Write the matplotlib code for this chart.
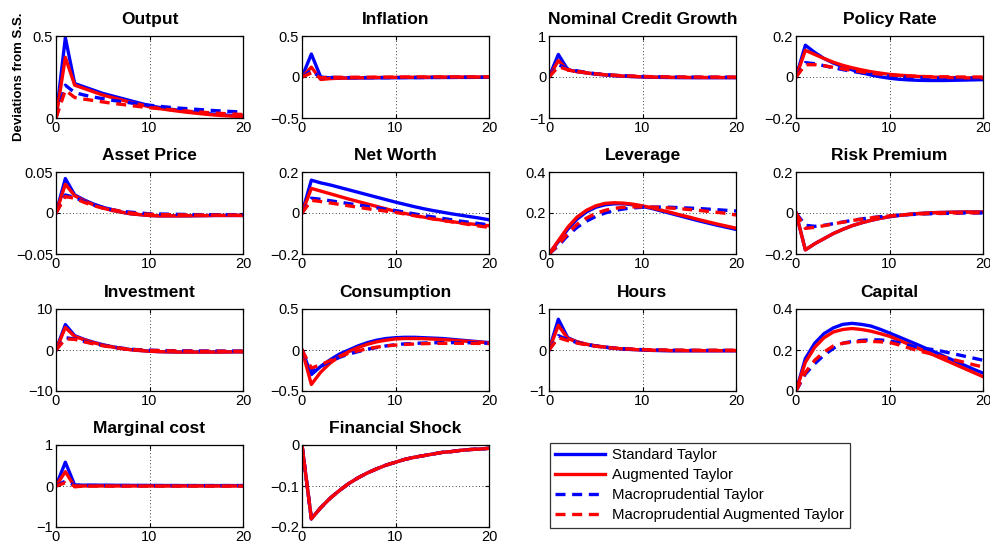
import matplotlib
matplotlib.use("Agg")
import matplotlib.pyplot as plt
from matplotlib.ticker import FuncFormatter
from matplotlib.lines import Line2D

plt.rcParams['font.family'] = ['Liberation Sans', 'DejaVu Sans']

quarters = list(range(21))

# impulse responses: standard, augmented, macroprudential, macroprudential augmented
output_std = [0, 0.49, 0.21, 0.19, 0.17, 0.15, 0.135, 0.12, 0.105, 0.09, 0.075, 0.065, 0.056, 0.048, 0.041, 0.034, 0.028, 0.023, 0.019, 0.015, 0.012]
output_aug = [0, 0.37, 0.20, 0.18, 0.16, 0.14, 0.125, 0.11, 0.095, 0.082, 0.068, 0.058, 0.05, 0.042, 0.035, 0.029, 0.023, 0.018, 0.014, 0.011, 0.008]
output_mac = [0, 0.20, 0.155, 0.14, 0.128, 0.118, 0.108, 0.1, 0.092, 0.085, 0.078, 0.072, 0.066, 0.061, 0.057, 0.053, 0.049, 0.045, 0.042, 0.039, 0.036]
output_mau = [0, 0.17, 0.125, 0.115, 0.107, 0.098, 0.09, 0.083, 0.076, 0.069, 0.063, 0.057, 0.052, 0.047, 0.042, 0.038, 0.034, 0.03, 0.027, 0.024, 0.021]

infl_std = [0, 0.28, 0.0, -0.01, -0.012, -0.012, -0.012, -0.011, -0.01, -0.01, -0.009, -0.008, -0.008, -0.007, -0.006, -0.006, -0.005, -0.005, -0.005, -0.004, -0.004]
infl_aug = [0, 0.12, -0.03, -0.02, -0.015, -0.012, -0.01, -0.008, -0.006, -0.005, -0.004, -0.003, -0.002, -0.002, -0.001, -0.001, 0, 0, 0, 0, 0]
infl_mac = [0, 0.08, -0.01, -0.005, -0.006, -0.007, -0.007, -0.007, -0.007, -0.007, -0.007, -0.006, -0.006, -0.006, -0.005, -0.005, -0.005, -0.004, -0.004, -0.004, -0.004]
infl_mau = [0, 0.05, -0.01, -0.004, -0.004, -0.004, -0.003, -0.003, -0.002, -0.002, -0.001, -0.001, 0, 0, 0, 0, 0, 0, 0, 0, 0]

credit_std = [0, 0.55, 0.18, 0.13, 0.10, 0.07, 0.05, 0.03, 0.018, 0.008, 0, -0.006, -0.01, -0.013, -0.015, -0.016, -0.017, -0.017, -0.017, -0.017, -0.017]
credit_aug = [0, 0.40, 0.17, 0.13, 0.10, 0.072, 0.052, 0.035, 0.022, 0.012, 0.004, -0.002, -0.006, -0.008, -0.01, -0.011, -0.012, -0.012, -0.012, -0.012, -0.012]
credit_mac = [0, 0.30, 0.20, 0.15, 0.11, 0.08, 0.06, 0.042, 0.03, 0.02, 0.012, 0.006, 0.002, -0.001, -0.003, -0.004, -0.005, -0.005, -0.005, -0.005, -0.005]
credit_mau = [0, 0.25, 0.18, 0.14, 0.105, 0.078, 0.058, 0.042, 0.03, 0.021, 0.014, 0.008, 0.004, 0.001, -0.001, -0.002, -0.003, -0.003, -0.003, -0.003, -0.003]

rate_std = [0, 0.155, 0.12, 0.09, 0.068, 0.05, 0.035, 0.021, 0.01, 0.001, -0.006, -0.011, -0.014, -0.016, -0.017, -0.017, -0.017, -0.016, -0.015, -0.014, -0.013]
rate_aug = [0, 0.13, 0.11, 0.09, 0.072, 0.057, 0.045, 0.035, 0.026, 0.019, 0.013, 0.009, 0.006, 0.003, 0.001, -0.001, -0.002, -0.003, -0.004, -0.004, -0.004]
rate_mac = [0, 0.07, 0.065, 0.055, 0.045, 0.036, 0.028, 0.02, 0.013, 0.008, 0.004, 0.001, -0.001, -0.003, -0.004, -0.005, -0.005, -0.005, -0.005, -0.005, -0.005]
rate_mau = [0, 0.06, 0.06, 0.055, 0.047, 0.04, 0.032, 0.025, 0.019, 0.014, 0.01, 0.007, 0.005, 0.003, 0.002, 0.001, 0.001, 0, 0, 0, 0]

asset_std = [0, 0.042, 0.022, 0.016, 0.011, 0.007, 0.004, 0.001, -0.001, -0.002, -0.003, -0.0035, -0.0035, -0.0035, -0.0035, -0.0033, -0.0032, -0.003, -0.003, -0.003, -0.003]
asset_aug = [0, 0.035, 0.021, 0.015, 0.010, 0.006, 0.003, 0.001, -0.001, -0.002, -0.003, -0.0035, -0.0035, -0.0035, -0.0034, -0.0033, -0.0032, -0.003, -0.003, -0.003, -0.003]
asset_mac = [0, 0.022, 0.019, 0.014, 0.010, 0.007, 0.004, 0.002, 0.001, 0, -0.001, -0.0012, -0.0014, -0.0016, -0.0018, -0.002, -0.002, -0.002, -0.002, -0.002, -0.002]
asset_mau = [0, 0.020, 0.018, 0.013, 0.009, 0.006, 0.004, 0.002, 0, -0.001, -0.0015, -0.002, -0.002, -0.0022, -0.0024, -0.0025, -0.0025, -0.0025, -0.0025, -0.0025, -0.0025]

worth_std = [0, 0.16, 0.147, 0.137, 0.125, 0.113, 0.101, 0.089, 0.077, 0.065, 0.053, 0.042, 0.031, 0.021, 0.012, 0.004, -0.004, -0.011, -0.018, -0.025, -0.033]
worth_aug = [0, 0.12, 0.107, 0.094, 0.081, 0.068, 0.056, 0.044, 0.032, 0.02, 0.008, -0.002, -0.011, -0.02, -0.028, -0.035, -0.042, -0.048, -0.053, -0.058, -0.062]
worth_mac = [0, 0.072, 0.067, 0.06, 0.053, 0.046, 0.039, 0.032, 0.025, 0.018, 0.012, 0.004, -0.004, -0.012, -0.019, -0.026, -0.033, -0.04, -0.046, -0.052, -0.058]
worth_mau = [0, 0.062, 0.056, 0.049, 0.042, 0.035, 0.028, 0.021, 0.015, 0.009, 0.003, -0.005, -0.013, -0.021, -0.029, -0.036, -0.043, -0.05, -0.057, -0.064, -0.07]

lev_std = [0, 0.06, 0.12, 0.17, 0.205, 0.228, 0.24, 0.245, 0.245, 0.24, 0.232, 0.222, 0.21, 0.198, 0.186, 0.174, 0.162, 0.151, 0.14, 0.13, 0.12]
lev_aug = [0, 0.065, 0.13, 0.18, 0.213, 0.235, 0.247, 0.25, 0.248, 0.243, 0.235, 0.225, 0.214, 0.203, 0.191, 0.18, 0.168, 0.157, 0.146, 0.136, 0.126]
lev_mac = [0, 0.04, 0.09, 0.13, 0.16, 0.183, 0.2, 0.212, 0.22, 0.225, 0.228, 0.229, 0.229, 0.228, 0.226, 0.224, 0.222, 0.219, 0.216, 0.213, 0.21]
lev_mau = [0, 0.045, 0.10, 0.145, 0.175, 0.198, 0.213, 0.223, 0.228, 0.23, 0.23, 0.229, 0.227, 0.224, 0.221, 0.217, 0.213, 0.208, 0.203, 0.198, 0.19]

risk_std = [0, -0.18, -0.15, -0.125, -0.1, -0.08, -0.062, -0.048, -0.036, -0.026, -0.018, -0.012, -0.007, -0.003, 0, 0.002, 0.003, 0.004, 0.005, 0.005, 0.005]
risk_aug = [0, -0.18, -0.15, -0.125, -0.1, -0.08, -0.062, -0.048, -0.036, -0.026, -0.018, -0.012, -0.007, -0.003, 0, 0.002, 0.003, 0.004, 0.005, 0.005, 0.005]
risk_mac = [0, -0.06, -0.065, -0.06, -0.052, -0.044, -0.036, -0.029, -0.023, -0.018, -0.014, -0.011, -0.008, -0.006, -0.004, -0.003, -0.002, -0.001, 0, 0, 0]
risk_mau = [0, -0.075, -0.07, -0.062, -0.053, -0.045, -0.037, -0.03, -0.024, -0.019, -0.014, -0.01, -0.007, -0.005, -0.003, -0.002, -0.001, 0, 0.001, 0.001, 0.001]

inv_std = [0, 6.2, 3.5, 2.6, 1.9, 1.3, 0.8, 0.4, 0.1, -0.1, -0.3, -0.4, -0.45, -0.5, -0.5, -0.5, -0.5, -0.5, -0.5, -0.45, -0.45]
inv_aug = [0, 5.5, 3.3, 2.5, 1.8, 1.2, 0.75, 0.35, 0.05, -0.15, -0.3, -0.4, -0.45, -0.5, -0.5, -0.5, -0.5, -0.5, -0.5, -0.45, -0.45]
inv_mac = [0, 3.0, 2.7, 2.1, 1.6, 1.1, 0.75, 0.45, 0.2, 0.05, -0.05, -0.1, -0.15, -0.2, -0.2, -0.22, -0.24, -0.25, -0.25, -0.25, -0.25]
inv_mau = [0, 2.7, 2.6, 2.0, 1.5, 1.05, 0.7, 0.4, 0.15, 0, -0.1, -0.15, -0.2, -0.25, -0.27, -0.3, -0.3, -0.3, -0.3, -0.3, -0.3]

cons_std = [0, -0.3, -0.2, -0.12, -0.05, 0.0, 0.05, 0.09, 0.12, 0.14, 0.15, 0.155, 0.155, 0.15, 0.145, 0.14, 0.13, 0.12, 0.11, 0.1, 0.09]
cons_aug = [0, -0.42, -0.27, -0.16, -0.08, -0.02, 0.03, 0.07, 0.1, 0.12, 0.135, 0.14, 0.14, 0.138, 0.133, 0.127, 0.12, 0.112, 0.104, 0.096, 0.088]
cons_mac = [0, -0.25, -0.2, -0.14, -0.09, -0.05, -0.02, 0.01, 0.03, 0.05, 0.065, 0.075, 0.08, 0.085, 0.088, 0.09, 0.09, 0.09, 0.088, 0.085, 0.082]
cons_mau = [0, -0.22, -0.18, -0.13, -0.08, -0.04, -0.01, 0.015, 0.035, 0.05, 0.06, 0.068, 0.073, 0.077, 0.08, 0.081, 0.082, 0.082, 0.081, 0.08, 0.078]

hours_std = [0, 0.75, 0.3, 0.2, 0.14, 0.1, 0.07, 0.04, 0.02, 0.01, 0, -0.01, -0.015, -0.02, -0.02, -0.02, -0.02, -0.02, -0.02, -0.02, -0.02]
hours_aug = [0, 0.6, 0.28, 0.2, 0.14, 0.1, 0.07, 0.045, 0.025, 0.012, 0.003, -0.005, -0.01, -0.013, -0.015, -0.016, -0.016, -0.016, -0.016, -0.016, -0.016]
hours_mac = [0, 0.35, 0.25, 0.18, 0.13, 0.095, 0.068, 0.047, 0.031, 0.019, 0.01, 0.003, -0.002, -0.005, -0.007, -0.008, -0.009, -0.009, -0.009, -0.009, -0.009]
hours_mau = [0, 0.3, 0.23, 0.17, 0.125, 0.092, 0.066, 0.046, 0.031, 0.02, 0.011, 0.005, 0.001, -0.002, -0.004, -0.005, -0.006, -0.006, -0.006, -0.006, -0.006]

cap_std = [0, 0.158, 0.233, 0.28, 0.308, 0.325, 0.33, 0.325, 0.317, 0.301, 0.283, 0.264, 0.245, 0.226, 0.206, 0.187, 0.166, 0.146, 0.126, 0.106, 0.087]
cap_aug = [0, 0.14, 0.213, 0.26, 0.288, 0.3, 0.305, 0.3, 0.292, 0.28, 0.267, 0.248, 0.229, 0.209, 0.19, 0.17, 0.15, 0.13, 0.11, 0.09, 0.07]
cap_mac = [0, 0.083, 0.133, 0.175, 0.208, 0.233, 0.242, 0.247, 0.25, 0.249, 0.245, 0.235, 0.224, 0.213, 0.206, 0.2, 0.19, 0.18, 0.17, 0.16, 0.15]
cap_mau = [0, 0.09, 0.15, 0.19, 0.22, 0.233, 0.238, 0.242, 0.242, 0.24, 0.237, 0.225, 0.211, 0.197, 0.186, 0.175, 0.163, 0.151, 0.14, 0.128, 0.117]

mc_std = [0, 0.58, 0.02, 0.02, 0.02, 0.02, 0.018, 0.016, 0.015, 0.014, 0.013, 0.012, 0.011, 0.01, 0.01, 0.01, 0.01, 0.01, 0.01, 0.01, 0.01]
mc_aug = [0, 0.35, -0.02, 0, 0, 0, 0, 0, 0, 0, 0, 0, 0, 0, 0, 0, 0, 0, 0, 0, 0]
mc_mac = [0, 0.12, 0.02, 0.015, 0.012, 0.01, 0.01, 0.01, 0.01, 0.01, 0.01, 0.01, 0.01, 0.01, 0.01, 0.01, 0.01, 0.01, 0.01, 0.01, 0.01]
mc_mau = [0, 0.08, 0, 0, 0, 0, 0, 0, 0, 0, 0, 0, 0, 0, 0, 0, 0, 0, 0, 0, 0]

# the shock path is identical under every rule
shock = [0, -0.18, -0.153, -0.13, -0.111, -0.094, -0.08, -0.068, -0.058, -0.049, -0.042, -0.035, -0.03, -0.026, -0.022, -0.018, -0.016, -0.013, -0.011, -0.01, -0.008]

titles = ['Output', 'Inflation', 'Nominal Credit Growth', 'Policy Rate',
          'Asset Price', 'Net Worth', 'Leverage', 'Risk Premium',
          'Investment', 'Consumption', 'Hours', 'Capital',
          'Marginal cost', 'Financial Shock']
series = [(output_std, output_aug, output_mac, output_mau),
          (infl_std, infl_aug, infl_mac, infl_mau),
          (credit_std, credit_aug, credit_mac, credit_mau),
          (rate_std, rate_aug, rate_mac, rate_mau),
          (asset_std, asset_aug, asset_mac, asset_mau),
          (worth_std, worth_aug, worth_mac, worth_mau),
          (lev_std, lev_aug, lev_mac, lev_mau),
          (risk_std, risk_aug, risk_mac, risk_mau),
          (inv_std, inv_aug, inv_mac, inv_mau),
          (cons_std, cons_aug, cons_mac, cons_mau),
          (hours_std, hours_aug, hours_mac, hours_mau),
          (cap_std, cap_aug, cap_mac, cap_mau),
          (mc_std, mc_aug, mc_mac, mc_mau),
          (shock, shock, shock, shock)]
yticks = [[0, 0.5], [-0.5, 0, 0.5], [-1, 0, 1], [-0.2, 0, 0.2],
          [-0.05, 0, 0.05], [-0.2, 0, 0.2], [0, 0.2, 0.4], [-0.2, 0, 0.2],
          [-10, 0, 10], [-0.5, 0, 0.5], [-1, 0, 1], [0, 0.2, 0.4],
          [-1, 0, 1], [-0.2, -0.1, 0]]
rule_names = ['Standard Taylor', 'Augmented Taylor', 'Macroprudential Taylor',
              'Macroprudential Augmented Taylor']
styles = [('blue', '-'), ('red', '-'), ('blue', '--'), ('red', '--')]

W, H = 990, 551
fig = plt.figure(figsize=(9.9, 5.51), dpi=100)

col_left = [56, 302, 549, 796]
row_top = [36, 172, 309, 445]
ax_w, ax_h = 187, 82

fmt = FuncFormatter(lambda v, p: ('%g' % v).replace('-', '\u2212'))

for i, title in enumerate(titles):
    r, c = divmod(i, 4)
    ax = fig.add_axes([col_left[c] / W, 1 - (row_top[r] + ax_h) / H, ax_w / W, ax_h / H])
    for vals, (col, ls) in zip(series[i], styles):
        ln, = ax.plot(quarters, vals, color=col, linestyle=ls, linewidth=2.4)
        if ls == '--':
            ln.set_dashes((3.0, 2.0))
    ax.set_xlim(0, 20)
    ax.set_ylim(yticks[i][0], yticks[i][-1])
    ax.set_xticks([0, 10, 20])
    ax.set_yticks(yticks[i])
    ax.yaxis.set_major_formatter(fmt)
    ax.grid(True, color='black', linestyle=(0, (1, 3)), linewidth=0.6)
    ax.tick_params(direction='in', top=True, right=True, length=3, labelsize=10.5, pad=2)
    for s in ax.spines.values():
        s.set_linewidth(0.9)
    ax.set_title(title, fontsize=12.5, fontweight='bold', pad=8.5)
    if i == 0:
        ax.set_ylabel('Deviations from S.S.', fontsize=9.5, fontweight='bold', labelpad=6)

handles = []
for (col, ls) in styles:
    h = Line2D([], [], color=col, linestyle=ls, linewidth=2.4)
    if ls == '--':
        h.set_dashes((3.0, 2.0))
    handles.append(h)
leg = fig.legend(handles, rule_names, loc='upper left',
                 bbox_to_anchor=(550 / W, 1 - 443 / H), fontsize=10.8,
                 frameon=True, fancybox=False, edgecolor='black',
                 handlelength=3.3, handletextpad=0.5, labelspacing=0.4,
                 borderpad=0.35, borderaxespad=0)
leg.get_frame().set_linewidth(0.9)

fig.savefig('out.png', dpi=100)
